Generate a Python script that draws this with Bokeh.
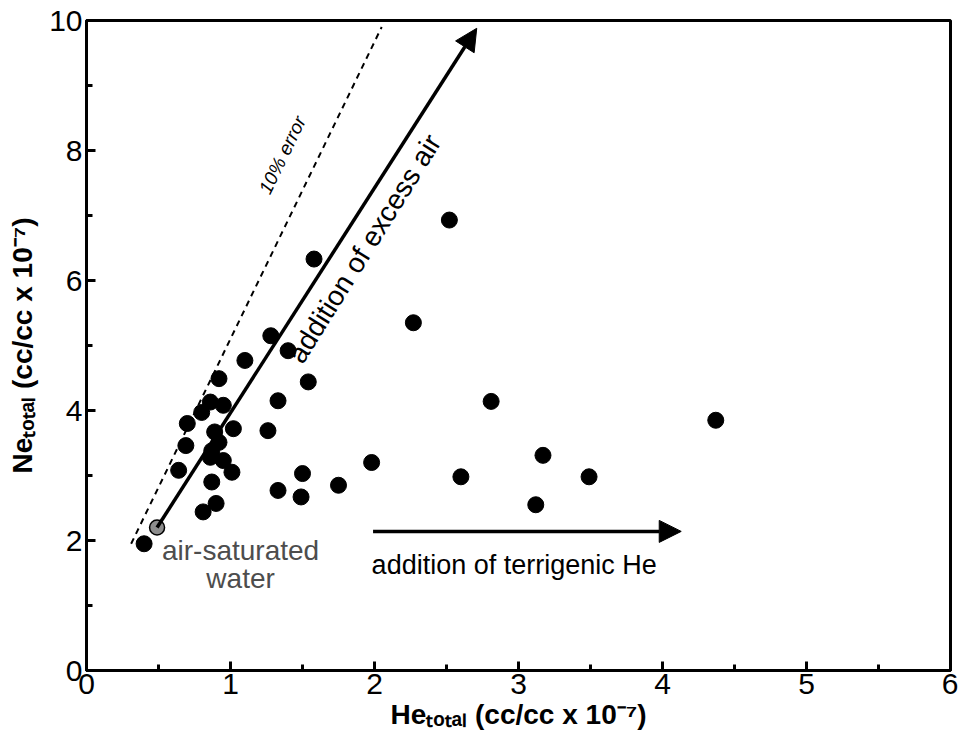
from bokeh.plotting import figure
from bokeh.models import Range1d, SingleIntervalTicker, Arrow, NormalHead
from bokeh.core.properties import value
from bokeh.embed import file_html
from bokeh.resources import INLINE
import math

# Measured samples
he_total = [0.40, 0.64, 0.69, 0.70, 0.80, 0.86, 0.92, 0.95, 0.89, 0.92, 0.87, 0.95, 1.02, 0.86,
            1.01, 0.87, 0.90, 0.81, 1.10, 1.28, 1.40, 1.54, 1.33, 1.26, 1.58, 2.52, 2.27, 2.81,
            4.37, 1.33, 1.50, 1.49, 1.75, 1.98, 2.60, 3.17, 3.49, 3.12]
ne_total = [1.95, 3.08, 3.46, 3.80, 3.97, 4.13, 4.49, 4.08, 3.67, 3.51, 3.38, 3.23, 3.72, 3.28,
            3.05, 2.90, 2.57, 2.44, 4.77, 5.15, 4.92, 4.44, 4.15, 3.69, 6.33, 6.93, 5.35, 4.14,
            3.85, 2.77, 3.03, 2.67, 2.85, 3.20, 2.98, 3.31, 2.98, 2.55]

# Air-saturated water
asw_he = [0.49]
asw_ne = [2.20]

# Reference lines
excess_air_x = [0.49, 2.71]
excess_air_y = [2.20, 9.88]
error_x = [0.31, 2.05]
error_y = [1.95, 9.90]
terr_x = [1.99, 4.13]
terr_y = [2.14, 2.14]

FONT = "Liberation Sans"

p = figure(width=958, height=740, output_backend="svg", toolbar_location=None,
           x_range=Range1d(0, 6), y_range=Range1d(0, 10),
           min_border_left=86, min_border_right=8, min_border_top=20, min_border_bottom=70)
p.grid.visible = False
p.outline_line_color = "black"
p.outline_line_width = 3

p.xaxis.ticker = SingleIntervalTicker(interval=1, num_minor_ticks=2)
p.yaxis.ticker = SingleIntervalTicker(interval=2, num_minor_ticks=2)
for ax in (p.xaxis, p.yaxis):
    ax.axis_line_width = 3
    ax.axis_line_color = "black"
    ax.major_tick_in = 9
    ax.major_tick_out = 0
    ax.minor_tick_in = 6
    ax.minor_tick_out = 0
    ax.major_tick_line_width = 3
    ax.minor_tick_line_width = 3
    ax.major_label_text_font = FONT
    ax.major_label_text_font_size = "30px"
    ax.major_label_text_color = "black"
    ax.axis_label_text_font = FONT
    ax.axis_label_text_font_style = "bold"
    ax.axis_label_text_font_size = "28px"
    ax.axis_label_text_color = "black"
p.xaxis.major_label_standoff = 3
p.yaxis.major_label_standoff = 4
p.xaxis.axis_label = "Heₜₒₜₐₗ (cc/cc x 10⁻⁷)"
p.yaxis.axis_label = "Neₜₒₜₐₗ (cc/cc x 10⁻⁷)"
p.xaxis.axis_label_standoff = 2
p.yaxis.axis_label_standoff = 8

# Lines
p.line(error_x, error_y, line_color="black", line_width=2, line_dash="6 5")
p.add_layout(Arrow(end=NormalHead(size=22, fill_color="black", line_color="black"),
                   x_start=excess_air_x[0], y_start=excess_air_y[0],
                   x_end=excess_air_x[1], y_end=excess_air_y[1],
                   line_color="black", line_width=3.5))
p.add_layout(Arrow(end=NormalHead(size=22, fill_color="black", line_color="black"),
                   x_start=terr_x[0], y_start=terr_y[0], x_end=terr_x[1], y_end=terr_y[1],
                   line_color="black", line_width=3.5))

# Points
p.scatter(he_total, ne_total, size=16, fill_color="black", line_color="black")
p.scatter(asw_he, asw_ne, size=15, fill_color="#8c8c8c", line_color="black", line_width=1.5)

# Annotations
p.text(x=[1.93], y=[6.49], text=["addition of excess air"], angle=math.radians(58),
       text_font=value(FONT), text_font_size="28px", text_align="center",
       text_baseline="middle", text_color="black")
p.text(x=[1.36], y=[7.93], text=["10% error"], angle=math.radians(64),
       text_font=value(FONT), text_font_size="19px", text_font_style="italic",
       text_align="center", text_baseline="middle", text_color="black")
p.text(x=[1.98], y=[1.62], text=["addition of terrigenic He"],
       text_font=value(FONT), text_font_size="27px", text_align="left",
       text_baseline="middle", text_color="black")
p.text(x=[1.07, 1.07], y=[1.85, 1.42], text=["air-saturated", "water"],
       text_font=value(FONT), text_font_size="28px", text_align="center",
       text_baseline="middle", text_color="#4d4d4d")

open("out.html", "w").write(file_html(p, INLINE))
